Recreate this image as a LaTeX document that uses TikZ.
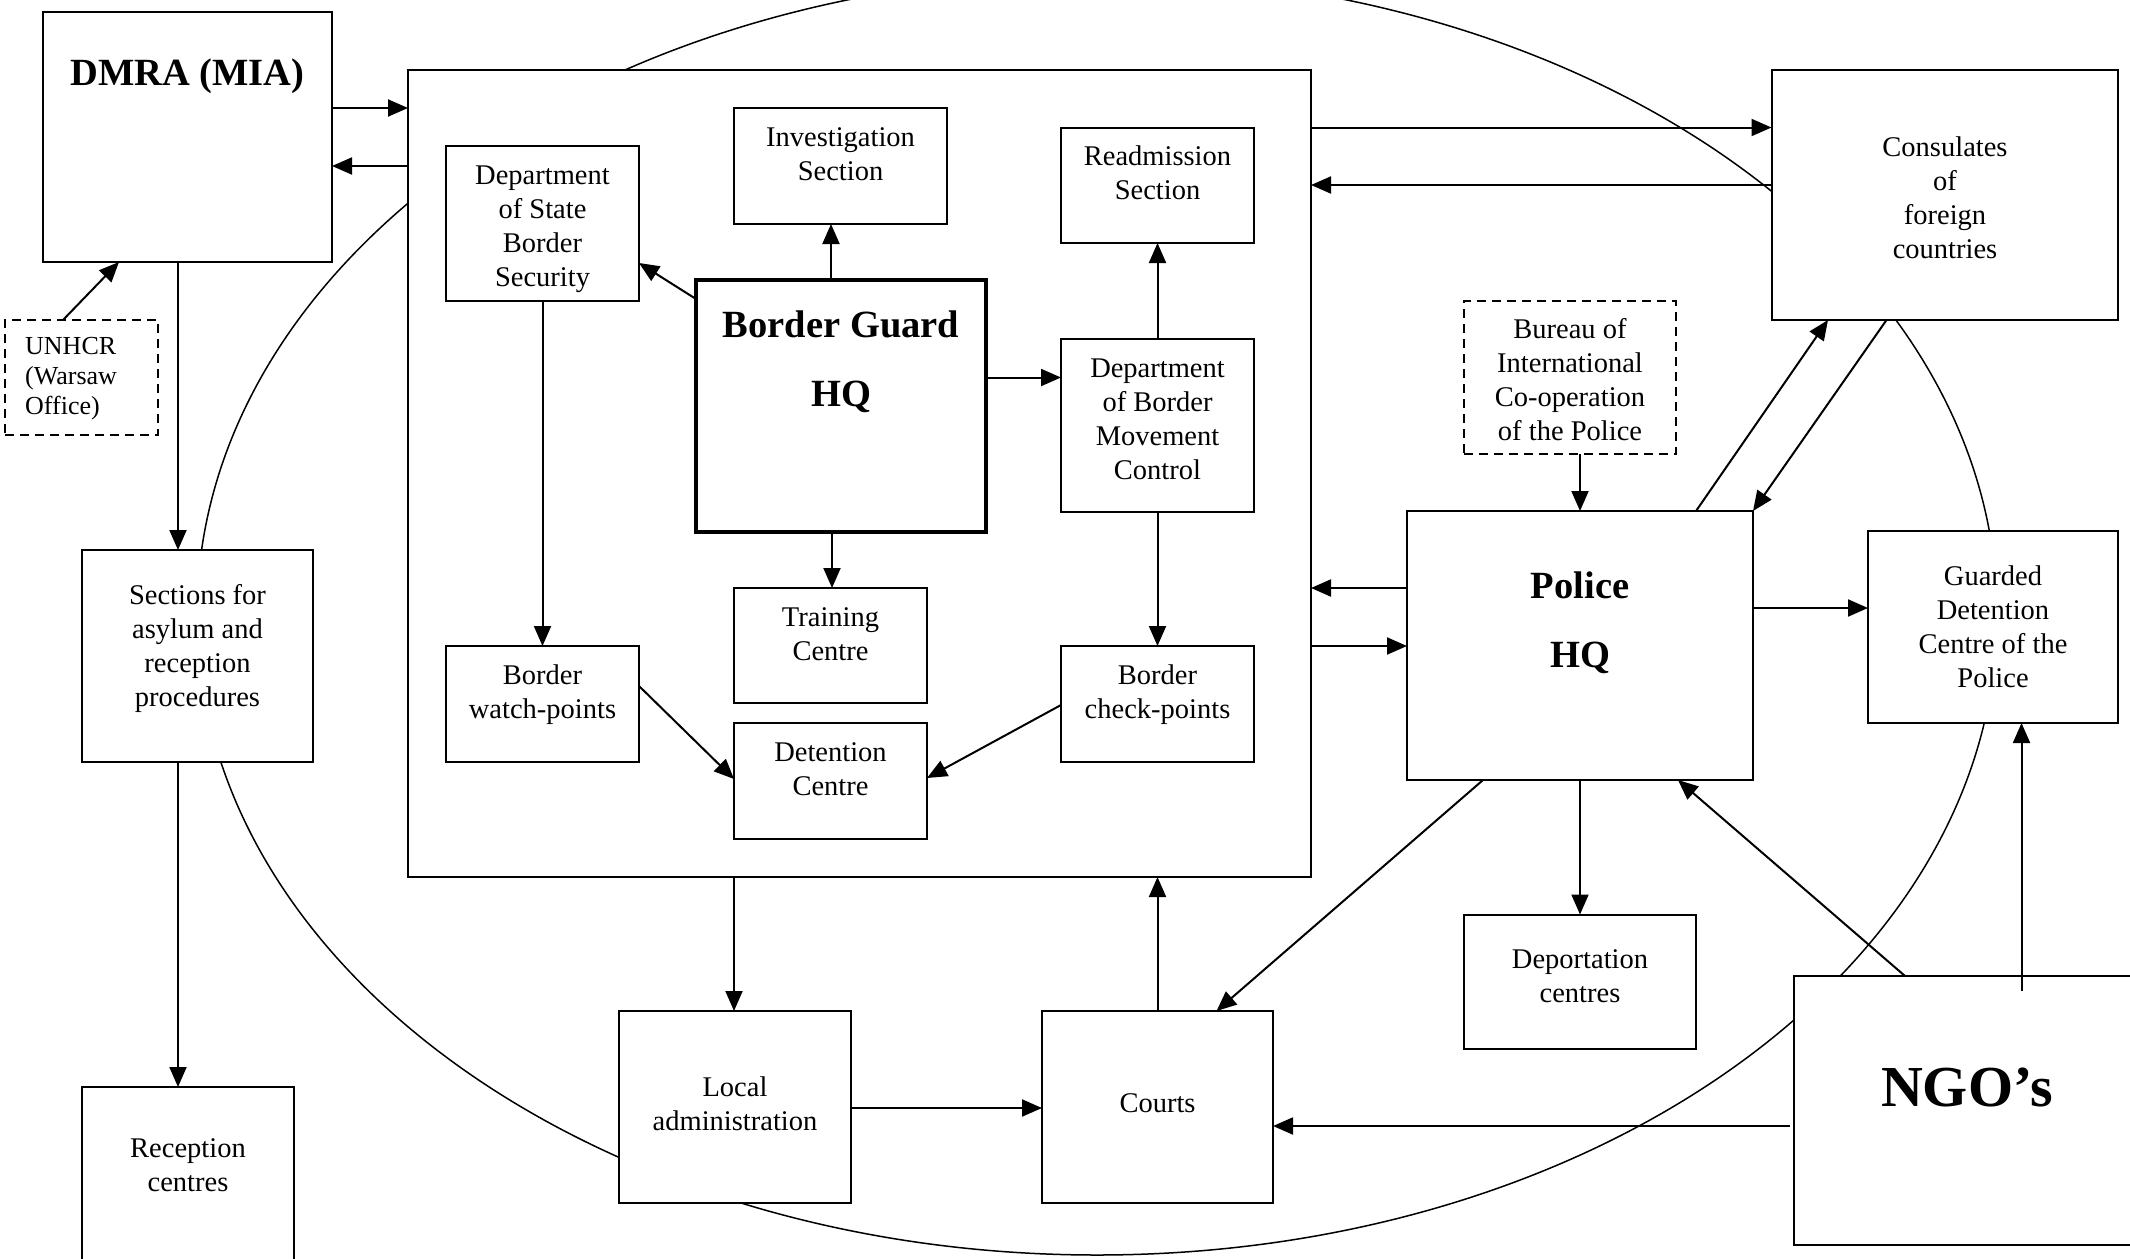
\documentclass[tikz,border=0pt]{standalone}
\usepackage{fontspec}
\setmainfont{Liberation Serif}
\usetikzlibrary{arrows.meta,calc,fit}
\newcommand\sst{\rule[-.3\baselineskip]{0pt}{\baselineskip}}
\begin{document}
\begin{tikzpicture}[x=1pt,y=-1pt,
  box/.style={draw, line width=2pt, fill=white, inner sep=0pt, outer sep=0pt},
  dbox/.style={box, dash pattern=on 9pt off 6pt},
  thickbox/.style={box, line width=4.5pt},
  txt/.style={inner sep=0pt, align=center, anchor=north, font=\fontsize{28.5}{34}\selectfont},
  smalltxt/.style={txt, align=left, anchor=north west, font=\fontsize{26}{30}\selectfont},
  bigtxt/.style={txt, font=\bfseries\fontsize{38.5}{69}\selectfont},
  hugetxt/.style={txt, font=\bfseries\fontsize{58}{70}\selectfont},
  arr/.style={line width=2pt, -{Triangle[length=20pt,width=17pt]}},
  oval/.style={line width=1.5pt}]
\useasboundingbox (0,0) rectangle (2130,1258);
\clip (0,0) rectangle (2130,1258);
\fill[white] (0,0) rectangle (2130,1258);

% big ellipse
\draw[oval] (1097,615) ellipse [x radius=900pt, y radius=640pt];

% boxes
\node[box, fit={(43,12)(332,262)}] (dmra) {};
\node[dbox, fit={(5,320)(158,435)}] (unhcr) {};
\node[box, fit={(408,70)(1311,877)}] (bg) {};
\node[box, fit={(446,146)(639,301)}] (dsbs) {};
\node[box, fit={(734,108)(947,224)}] (inv) {};
\node[thickbox, fit={(696,280)(986,532)}] (bghq) {};
\node[box, fit={(1061,127.5)(1254,243)}] (readm) {};
\node[box, fit={(1061,339)(1254,512)}] (dbmc) {};
\node[box, fit={(734,588)(927,703)}] (train) {};
\node[box, fit={(734,723)(927,838.5)}] (det) {};
\node[box, fit={(446,646)(639,762)}] (bwp) {};
\node[box, fit={(1061,646)(1254,762)}] (bcp) {};
\node[box, fit={(1771.5,70)(2118,320)}] (cons) {};
\node[dbox, fit={(1464,301)(1676,454)}] (bureau) {};
\node[box, fit={(1407,511)(1753,780)}] (police) {};
\node[box, fit={(1868,531)(2118,723)}] (guard) {};
\node[box, fit={(1464,914.5)(1696,1049)}] (deport) {};
\node[box, fit={(1794,976)(2145,1245)}] (ngo) {};
\node[box, fit={(82,550)(313,762)}] (sect) {};
\node[box, fit={(82,1087)(294,1275)}] (recep) {};
\node[box, fit={(619,1011)(851,1203)}] (local) {};
\node[box, fit={(1042,1011)(1273,1203)}] (courts) {};

% texts
\node[bigtxt] (dmrat) at (187.5,37.4) {\sst DMRA (MIA)};
\node[smalltxt] (unhcrt) at (25,333.6) {\sst UNHCR\\(Warsaw\\Office)};
\node[txt] (dsbst) at (542.5,160.6) {\sst Department\\of State\\Border\\Security};
\node[txt] (invt) at (840.5,122.6) {\sst Investigation\\Section};
\node[bigtxt] (bghqt) at (841,289.4) {\sst Border Guard\\HQ};
\node[txt] (readmt) at (1157.5,141.6) {\sst Readmission\\Section};
\node[txt] (dbmct) at (1157.5,353.6) {\sst Department\\of Border\\Movement\\Control};
\node[txt] (traint) at (830.5,602.6) {\sst Training\\Centre};
\node[txt] (dett) at (830.5,737.1) {\sst Detention\\Centre};
\node[txt] (bwpt) at (542.5,660.6) {\sst Border\\watch-points};
\node[txt] (bcpt) at (1157.5,660.6) {\sst Border\\check-points};
\node[txt] (const) at (1945,132.6) {\sst Consulates\\of\\foreign\\countries};
\node[txt] (bureaut) at (1570,314.6) {\sst Bureau of\\International\\Co-operation\\of the Police};
\node[bigtxt] (policet) at (1580,550.4) {\sst Police\\HQ};
\node[txt] (guardt) at (1993,561.6) {\sst Guarded\\Detention\\Centre of the\\Police};
\node[txt] (deportt) at (1580,944.6) {\sst Deportation\\centres};
\node[hugetxt] (ngot) at (1967,1057.2) {\sst NGO’s};
\node[txt] (sectt) at (197.5,580.6) {\sst Sections for\\asylum and\\reception\\procedures};
\node[txt] (recept) at (188,1133.6) {\sst Reception\\centres};
\node[txt] (localt) at (735,1072.6) {\sst Local\\administration};
\node[txt] (courtst) at (1157.5,1088.6) {\sst Courts};

% connectors
\draw[arr] (dmra.east |- 0,108) -- (bg.west |- 0,108);
\draw[arr] (bg.west |- 0,166) -- (dmra.east |- 0,166);
\draw[arr] ($(unhcr.north west)+(58,0)$) -- ($(dmra.south west)+(76,0)$);
\draw[arr] (dmra.south -| 178,0) -- (sect.north -| 178,0);
\draw[arr] (sect.south -| 178,0) -- (recep.north -| 178,0);
\draw[arr] (bghq.west |- 0,299) -- (dsbs.east |- 0,263);
\draw[arr] (bghq.north -| 831,0) -- (inv.south -| 831,0);
\draw[arr] (bghq.east |- 0,377.5) -- (dbmc.west |- 0,377.5);
\draw[arr] (bghq.south -| 832,0) -- (train.north -| 832,0);
\draw[arr] (dbmc.north) -- (readm.south);
\draw[arr] (dbmc.south) -- (bcp.north);
\draw[arr] (dsbs.south) -- (bwp.north);
\draw[arr] (bwp.east |- 0,686) -- (det.west |- 0,779);
\draw[arr] (bcp.west |- 0,705) -- (det.east |- 0,778);
\draw[arr] (bg.east |- 0,127.5) -- (cons.west |- 0,127.5);
\draw[arr] (cons.west |- 0,185) -- (bg.east |- 0,185);
\draw[arr] (police.west |- 0,588) -- (bg.east |- 0,588);
\draw[arr] (bg.east |- 0,646) -- (police.west |- 0,646);
\draw[arr] (bureau.south -| police.north) -- (police.north);
\draw[arr] ($(police.north west)+(289,0)$) -- ($(cons.south west)+(56.5,0)$);
\draw[arr] ($(cons.south west)+(115,0)$) -- (police.north east);
\draw[arr] (police.east |- 0,608) -- (guard.west |- 0,608);
\draw[arr] (police.south) -- (deport.north);
\draw[arr] ($(police.south west)+(76,0)$) -- ($(courts.north west)+(174.5,0)$);
\draw[arr] ($(ngo.north west)+(111,0)$) -- ($(police.south west)+(271,0)$);
\draw[arr] ($(ngo.north west)+(227.5,15)$) -- ($(guard.south west)+(153.5,0)$);
\draw[arr] ($(ngo.south west)+(-4,-119)$) -- (courts.east |- 0,1126);
\draw[arr] (bg.south -| 734,0) -- (local.north -| 734,0);
\draw[arr] (local.east |- 0,1108) -- (courts.west |- 0,1108);
\draw[arr] (courts.north) -- (courts.north |- bg.south);
\end{tikzpicture}
\end{document}
